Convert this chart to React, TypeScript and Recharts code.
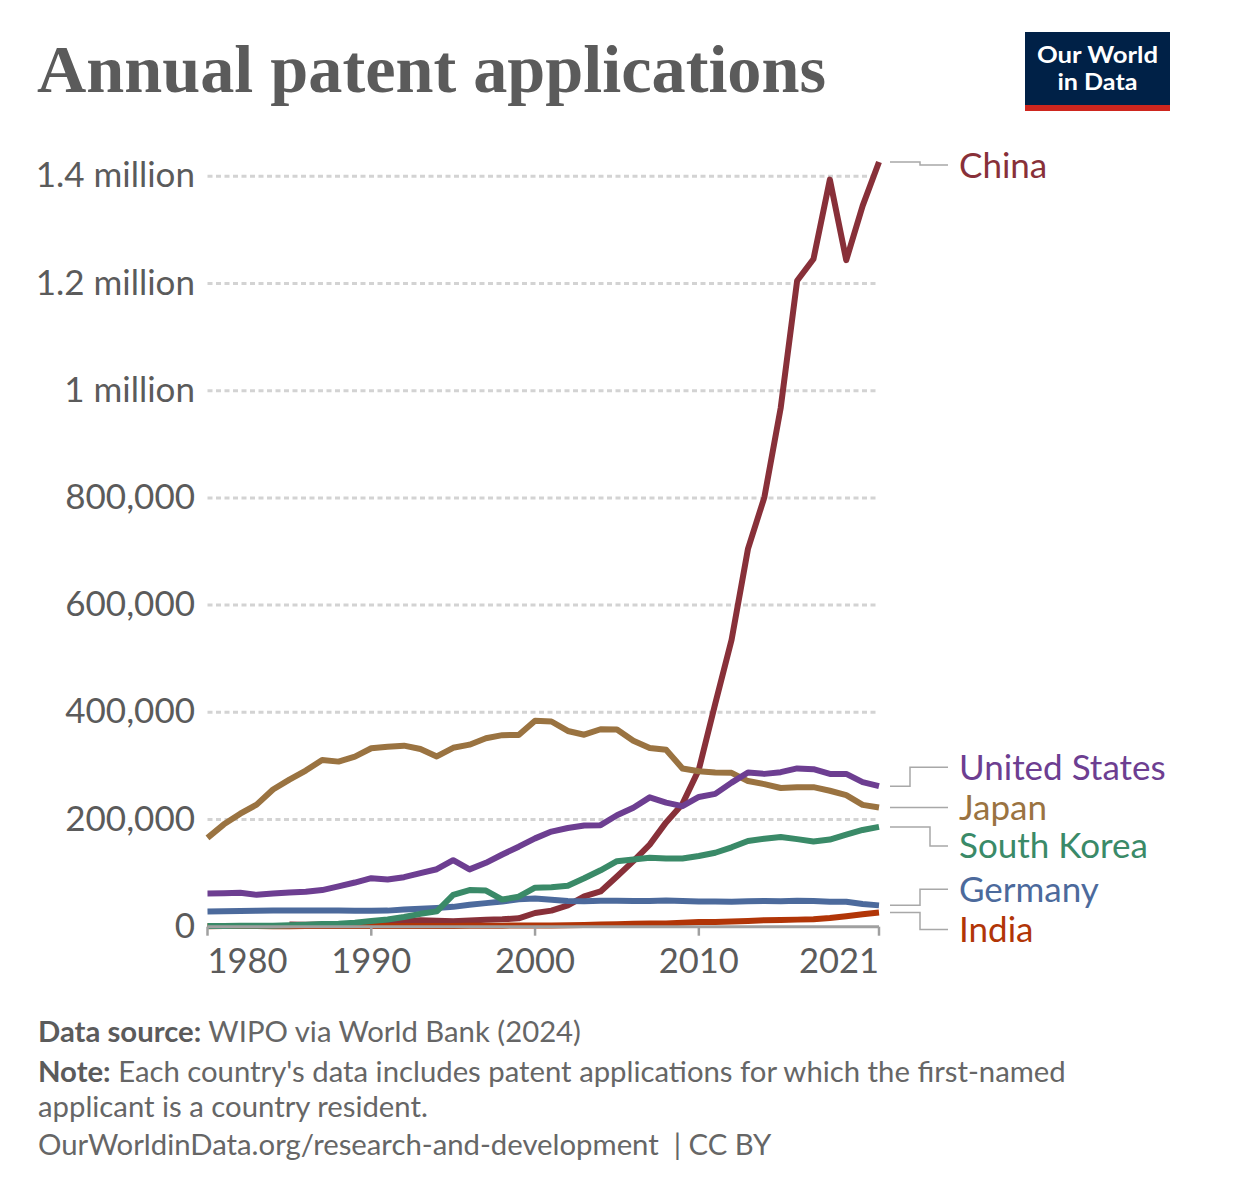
import { LineChart, Line, XAxis, YAxis, ReferenceLine } from 'recharts';

// Resident patent applications per year, 1980–2021
const years = [
  1980, 1981, 1982, 1983, 1984, 1985, 1986, 1987, 1988, 1989,
  1990, 1991, 1992, 1993, 1994, 1995, 1996, 1997, 1998, 1999,
  2000, 2001, 2002, 2003, 2004, 2005, 2006, 2007, 2008, 2009,
  2010, 2011, 2012, 2013, 2014, 2015, 2016, 2017, 2018, 2019,
  2020, 2021,
];

const china = [
  null, null, null, null, null, 4065, 3500, 4000, 4400, 4700,
  5800, 7400, 10000, 12100, 11200, 10000, 11500, 12800, 13700, 15600,
  25600, 30000, 39800, 56800, 65800, 93500, 122300, 153100, 194600, 229100,
  293100, 415800, 535300, 704900, 801100, 968300, 1205000, 1245700, 1393800, 1243600,
  1344800, 1426600,
];

const unitedStates = [
  62100, 62400, 63300, 59400, 61800, 63700, 65200, 68300, 75200, 82400,
  90600, 88000, 92400, 100000, 107200, 124000, 106900, 119200, 134700, 149300,
  164800, 177500, 184200, 188900, 189500, 207900, 221800, 241300, 231600, 224900,
  242000, 247800, 268800, 287800, 285100, 288300, 295300, 293900, 285100, 285100,
  269600, 262200,
];

const japan = [
  165700, 191000, 210800, 227700, 256000, 274400, 291300, 310900, 308000, 317400,
  332900, 335900, 337800, 331600, 317600, 333800, 339600, 351500, 357400, 357500,
  384200, 382800, 365200, 358200, 368400, 368000, 347100, 333500, 330100, 295300,
  290100, 287600, 287000, 271700, 266000, 258800, 260200, 260300, 253600, 245400,
  227300, 222500,
];

const southKorea = [
  1200, 1300, 1600, 1600, 2000, 2700, 3600, 4900, 5700, 7600,
  10500, 13500, 18000, 24000, 28600, 59200, 68400, 67400, 50600, 56000,
  72800, 73700, 76600, 90300, 105300, 122200, 125500, 128700, 127100, 127300,
  131800, 138000, 148100, 160000, 164100, 167300, 163400, 159100, 162600, 171600,
  180500, 186200,
];

const germany = [
  28500, 29000, 29500, 29800, 30000, 30000, 30000, 30000, 30000, 29800,
  29800, 30000, 32000, 33500, 35000, 37000, 41000, 44000, 47000, 51000,
  52500, 50500, 48000, 47500, 48300, 48400, 48000, 48000, 49000, 47900,
  47000, 46900, 46600, 47400, 48100, 47400, 48500, 47800, 46600, 46600,
  42300, 39800,
];

const india = [
  1000, 1100, 1100, 1100, 1000, 1000, 1100, 1100, 1200, 1200,
  1300, 1300, 1300, 1200, 1300, 1500, 1700, 1900, 2000, 2200,
  2200, 2400, 2700, 3400, 4000, 4700, 5300, 6000, 6000, 7300,
  8900, 8800, 9600, 10700, 12000, 12600, 13200, 14000, 16300, 19500,
  23100, 26300,
];

const yTicks = [0, 200000, 400000, 600000, 800000, 1000000, 1200000, 1400000];
const xTicks = [1980, 1990, 2000, 2010, 2021];

// drawing order: first is at the bottom. dy = label offset from line end, elbow = leader bend
const series = [
  { key: 'china', name: 'China', color: '#883039', values: china, dy: 3, elbow: 41 },
  { key: 'india', name: 'India', color: '#b13507', values: india, dy: 17, elbow: 41 },
  { key: 'germany', name: 'Germany', color: '#4c6a9c', values: germany, dy: -16, elbow: 41 },
  { key: 'southKorea', name: 'South Korea', color: '#3a8a68', values: southKorea, dy: 19, elbow: 51 },
  { key: 'japan', name: 'Japan', color: '#9a7341', values: japan, dy: 0, elbow: 41 },
  { key: 'unitedStates', name: 'United States', color: '#6d3e91', values: unitedStates, dy: -19, elbow: 31 },
];

const data = years.map((year, i) => {
  const row: Record<string, number | null> = { year };
  series.forEach((s) => { row[s.key] = s.values[i]; });
  return row;
});

const FONT = 'Lato, "Noto Sans", sans-serif';
const GREY = '#5b5b5b';

const fmtY = (v: number) => {
  if (v >= 1000000) return `${v / 1000000} million`;
  return v.toLocaleString('en-US');
};

const YTick = ({ y, payload }: any) => (
  <text x={195} y={y} dy={11} textAnchor="end" fontFamily={FONT} fontSize={35} fill={GREY}>
    {fmtY(payload.value)}
  </text>
);

const XTick = ({ x, y, payload, index }: any) => {
  const anchor = index === 0 ? 'start' : index === xTicks.length - 1 ? 'end' : 'middle';
  return (
    <text x={x} y={y} dy={35} textAnchor={anchor} fontFamily={FONT} fontSize={34.5} fill={GREY}>
      {payload.value}
    </text>
  );
};

const makeEndLabel = (s: typeof series[number]) => (props: any) => {
  const { x, y, index } = props;
  if (index !== years.length - 1 || x == null || y == null) return null;
  const ly = y + s.dy;
  return (
    <g key={`lbl-${s.key}`}>
      <path
        d={`M${x + 11},${y} H${x + s.elbow} V${ly} H${x + 69}`}
        fill="none"
        stroke="#a8a8a8"
        strokeWidth={1.5}
      />
      <text x={x + 80} y={ly} dy={12.5} fontFamily={FONT} fontSize={35} fill={s.color}>
        {s.name}
      </text>
    </g>
  );
};

export default function App() {
  return (
    <div style={{ position: 'absolute', left: 0, top: 0, width: 1238, height: 1198, background: '#fff' }}>
      <LineChart
        width={1238}
        height={1198}
        data={data}
        margin={{ top: 122.7, right: 359, bottom: 211.3, left: 7.5 }}
        style={{ position: 'absolute', left: 0, top: 0 }}
      >
        <XAxis
          dataKey="year"
          type="number"
          domain={[1980, 2021]}
          ticks={xTicks}
          height={60}
          tickSize={9}
          axisLine={{ stroke: '#a0a0a0', strokeWidth: 3 }}
          tickLine={{ stroke: '#a0a0a0', strokeWidth: 2.5 }}
          tick={<XTick />}
          interval={0}
        />
        <YAxis
          domain={[0, 1500000]}
          ticks={yTicks}
          width={200}
          axisLine={false}
          tickLine={false}
          tick={<YTick />}
          interval={0}
        />
        {yTicks.slice(1).map((v) => (
          <ReferenceLine key={v} y={v} stroke="#d3d3d3" strokeDasharray="5 3.5" strokeWidth={3} />
        ))}
        {series.map((s) => (
          <Line
            key={s.key}
            dataKey={s.key}
            type="linear"
            stroke={s.color}
            strokeWidth={6}
            strokeLinejoin="round"
            dot={false}
            activeDot={false}
            isAnimationActive={false}
            label={makeEndLabel(s)}
          />
        ))}
      </LineChart>

      <svg width={1238} height={1198} style={{ position: 'absolute', left: 0, top: 0, pointerEvents: 'none' }}>
        <text
          x={37}
          y={92}
          fontFamily='"Liberation Serif", "DejaVu Serif", serif'
          fontWeight={700}
          fontSize={68}
          fill={GREY}
          textLength={789}
          lengthAdjust="spacingAndGlyphs"
        >
          Annual patent applications
        </text>

        <rect x={1025} y={32} width={145} height={74} fill="#002147" />
        <rect x={1025} y={105} width={145} height={6} fill="#ce261e" />
        <text x={1097.5} y={63} textAnchor="middle" fontFamily={FONT} fontWeight={700} fontSize={22} fill="#fff"
          textLength={121} lengthAdjust="spacingAndGlyphs">
          Our World
        </text>
        <text x={1097.5} y={90} textAnchor="middle" fontFamily={FONT} fontWeight={700} fontSize={22} fill="#fff"
          textLength={80} lengthAdjust="spacingAndGlyphs">
          in Data
        </text>

        <g fontFamily={FONT} fontSize={29.3} fill="#666">
          <text x={38} y={1041.5}>
            <tspan fontWeight={700} fill="#5b5b5b">Data source:</tspan> WIPO via World Bank (2024)
          </text>
          <text x={38} y={1081.5}>
            <tspan fontWeight={700} fill="#5b5b5b">Note:</tspan> Each country's data includes patent applications for which the first-named
          </text>
          <text x={38} y={1116.5}>applicant is a country resident.</text>
          <text x={38} y={1155}>{'OurWorldinData.org/research-and-development\u00a0 | CC BY'}</text>
        </g>
      </svg>
    </div>
  );
}
